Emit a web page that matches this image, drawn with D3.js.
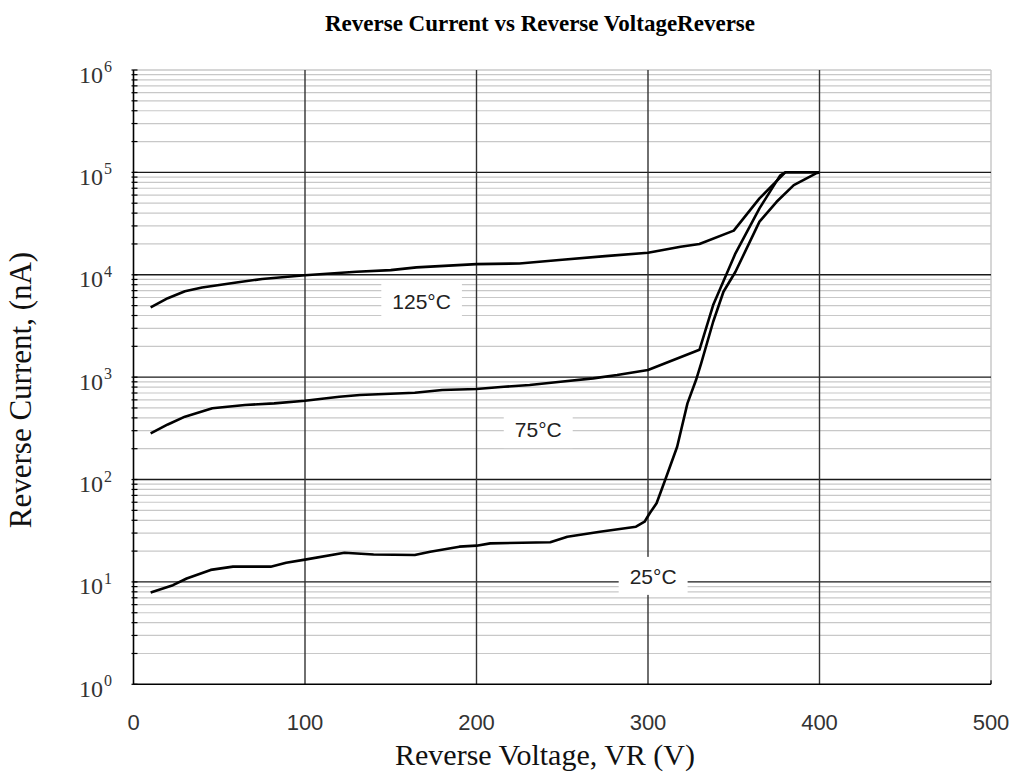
<!DOCTYPE html>
<html>
<head>
<meta charset="utf-8">
<script src="https://cdn.jsdelivr.net/npm/d3@7"></script>
<style>
  body { margin: 0; background: #fff; }
  svg { display: block; }
</style>
</head>
<body>
<svg id="chart"></svg>
<script>
// values
const volts125 = [10, 20, 30, 40, 50, 60, 75, 100, 115, 130, 150, 165, 200, 225, 250, 275, 300, 319, 330, 350, 365, 380, 400];
const amps125 = [4800, 5900, 6900, 7500, 7950, 8400, 9100, 9900, 10300, 10700, 11100, 11800, 12700, 12900, 14000, 15200, 16400, 18800, 20000, 27000, 55700, 100000, 100000];

const volts75 = [10, 20, 30, 46, 65, 82, 100, 120, 132, 164, 180, 200, 216, 231, 249, 268, 282, 300, 330, 338, 348, 351, 365, 377, 380];
const amps75 = [282, 345, 411, 496, 534, 555, 588, 644, 669, 704, 748, 765, 806, 837, 902, 973, 1048, 1173, 1850, 5060, 12400, 16200, 44500, 93000, 100000];

const volts25 = [10, 23, 31, 45, 58, 80, 89, 100, 123, 140, 164, 173, 190, 200, 208, 243, 253, 272, 293, 298, 301, 305, 310, 317, 323, 328, 331, 338, 344, 351, 365, 375, 385, 398, 400];
const amps25 = [7.9, 9.3, 10.8, 13.1, 14.1, 14.1, 15.4, 16.5, 19.3, 18.5, 18.3, 19.7, 22.1, 22.6, 23.8, 24.4, 27.6, 30.9, 34.6, 38.7, 46.8, 58.6, 99, 209, 555, 937, 1364, 3476, 6820, 10700, 33000, 51600, 75200, 97800, 100000];

const labelTexts = ["125°C", "75°C", "25°C"];
const labelVolts = [168, 236, 303];
const labelAmps = [5450, 304, 11.2];

const xTicks = [0, 100, 200, 300, 400, 500];
const yExponents = [0, 1, 2, 3, 4, 5, 6];

const chartTitle = "Reverse Current vs Reverse VoltageReverse";
const xTitle = "Reverse Voltage, VR (V)";
const yTitle = "Reverse Current, (nA)";

const width = 1017, height = 782;
const plotLeft = 133.5, plotRight = 991, plotTop = 70, plotBottom = 684.3;

const svg = d3.select("#chart").attr("width", width).attr("height", height);
svg.append("rect").attr("width", width).attr("height", height).attr("fill", "#fff");

const x = d3.scaleLinear().domain([0, 500]).range([plotLeft, plotRight]);
const y = d3.scaleLog().domain([1, 1e6]).range([plotBottom, plotTop]);

// minor values 2..9 in every decade
const minorVals = [];
yExponents.slice(0, -1).forEach(e => {
  for (let k = 2; k <= 9; k++) minorVals.push(k * Math.pow(10, e));
});
const majorVals = yExponents.map(e => Math.pow(10, e));

const grid = svg.append("g");

grid.selectAll("line.minor")
  .data(minorVals)
  .enter()
  .append("line")
  .attr("class", "minor")
  .attr("x1", plotLeft).attr("x2", plotRight)
  .attr("y1", d => y(d)).attr("y2", d => y(d))
  .attr("stroke", "#c8c8c8")
  .attr("stroke-width", 1.2);

// top edge and right edge are light
grid.append("line")
  .attr("x1", plotLeft).attr("x2", plotRight)
  .attr("y1", y(1e6)).attr("y2", y(1e6))
  .attr("stroke", "#c8c8c8").attr("stroke-width", 1.5);
grid.append("line")
  .attr("x1", x(500)).attr("x2", x(500))
  .attr("y1", plotTop).attr("y2", plotBottom)
  .attr("stroke", "#c8c8c8").attr("stroke-width", 1.5);

grid.selectAll("line.major")
  .data(majorVals.slice(1, -1))
  .enter()
  .append("line")
  .attr("class", "major")
  .attr("x1", plotLeft).attr("x2", plotRight)
  .attr("y1", d => y(d)).attr("y2", d => y(d))
  .attr("stroke", "#1a1a1a")
  .attr("stroke-width", 1.4);

grid.selectAll("line.vert")
  .data(xTicks.slice(1, -1))
  .enter()
  .append("line")
  .attr("class", "vert")
  .attr("x1", d => x(d)).attr("x2", d => x(d))
  .attr("y1", plotTop).attr("y2", plotBottom)
  .attr("stroke", "#333")
  .attr("stroke-width", 1.4);

// curves
const line = d3.line()
  .x(d => x(d[0]))
  .y(d => y(d[1]));

const series = [
  d3.zip(volts125, amps125),
  d3.zip(volts75, amps75),
  d3.zip(volts25, amps25)
];

svg.append("g")
  .selectAll("path")
  .data(series)
  .enter()
  .append("path")
  .attr("d", line)
  .attr("fill", "none")
  .attr("stroke", "#000")
  .attr("stroke-width", 2.6)
  .attr("stroke-linejoin", "round");

// curve labels on white boxes
const labels = svg.append("g")
  .selectAll("g")
  .data(d3.zip(labelTexts, labelVolts, labelAmps))
  .enter()
  .append("g")
  .attr("transform", d => `translate(${x(d[1])},${y(d[2])})`);

labels.append("rect").attr("fill", "#fff");
labels.append("text")
  .attr("text-anchor", "middle")
  .attr("y", 7)
  .attr("font-family", "'Liberation Sans', Arial, sans-serif")
  .attr("font-size", 21)
  .attr("fill", "#222")
  .text(d => d[0]);

labels.each(function () {
  const g = d3.select(this);
  const w = g.select("text").node().getComputedTextLength();
  g.select("rect")
    .attr("x", -w / 2 - 11)
    .attr("y", -20)
    .attr("width", w + 22)
    .attr("height", 38);
});

// axes
const axis = svg.append("g");
axis.append("line")
  .attr("x1", plotLeft).attr("x2", plotLeft)
  .attr("y1", plotTop).attr("y2", plotBottom)
  .attr("stroke", "#000").attr("stroke-width", 1.6);
axis.append("line")
  .attr("x1", plotLeft).attr("x2", plotRight)
  .attr("y1", plotBottom).attr("y2", plotBottom)
  .attr("stroke", "#000").attr("stroke-width", 1.6);
axis.append("line")
  .attr("x1", plotRight).attr("x2", plotRight)
  .attr("y1", plotBottom).attr("y2", plotBottom - 4)
  .attr("stroke", "#000").attr("stroke-width", 1.4);

axis.selectAll("line.ytick")
  .data(minorVals.concat(majorVals))
  .enter()
  .append("line")
  .attr("class", "ytick")
  .attr("x1", plotLeft - 2).attr("x2", plotLeft + 4)
  .attr("y1", d => y(d)).attr("y2", d => y(d))
  .attr("stroke", "#000")
  .attr("stroke-width", 1.2);

// x tick labels
axis.selectAll("text.xlab")
  .data(xTicks)
  .enter()
  .append("text")
  .attr("class", "xlab")
  .attr("x", d => x(d))
  .attr("y", 730)
  .attr("text-anchor", "middle")
  .attr("font-family", "'Liberation Sans', Arial, sans-serif")
  .attr("font-size", 22)
  .attr("fill", "#333")
  .text(d => d);

// y tick labels, 10 with a raised exponent
const ylab = axis.selectAll("g.ylab")
  .data(yExponents)
  .enter()
  .append("g")
  .attr("class", "ylab")
  .attr("transform", d => `translate(0,${y(Math.pow(10, d))})`);

ylab.append("text")
  .attr("x", 103)
  .attr("y", 12.5)
  .attr("text-anchor", "end")
  .attr("font-family", "'Liberation Serif', 'Times New Roman', serif")
  .attr("font-size", 24)
  .attr("fill", "#333")
  .text("10");

ylab.append("text")
  .attr("x", 104)
  .attr("y", 2)
  .attr("font-family", "'Liberation Serif', 'Times New Roman', serif")
  .attr("font-size", 16)
  .attr("fill", "#333")
  .text(d => d);

// titles
svg.append("text")
  .attr("x", 540)
  .attr("y", 31)
  .attr("text-anchor", "middle")
  .attr("font-family", "'Liberation Serif', 'Times New Roman', serif")
  .attr("font-weight", "bold")
  .attr("font-size", 23)
  .attr("fill", "#000")
  .text(chartTitle);

svg.append("text")
  .attr("x", 545)
  .attr("y", 765)
  .attr("text-anchor", "middle")
  .attr("font-family", "'Liberation Serif', 'Times New Roman', serif")
  .attr("font-size", 30)
  .attr("fill", "#111")
  .text(xTitle);

svg.append("text")
  .attr("transform", "translate(31,390) rotate(-90)")
  .attr("text-anchor", "middle")
  .attr("font-family", "'Liberation Serif', 'Times New Roman', serif")
  .attr("font-size", 31)
  .attr("fill", "#111")
  .text(yTitle);
</script>
</body>
</html>
